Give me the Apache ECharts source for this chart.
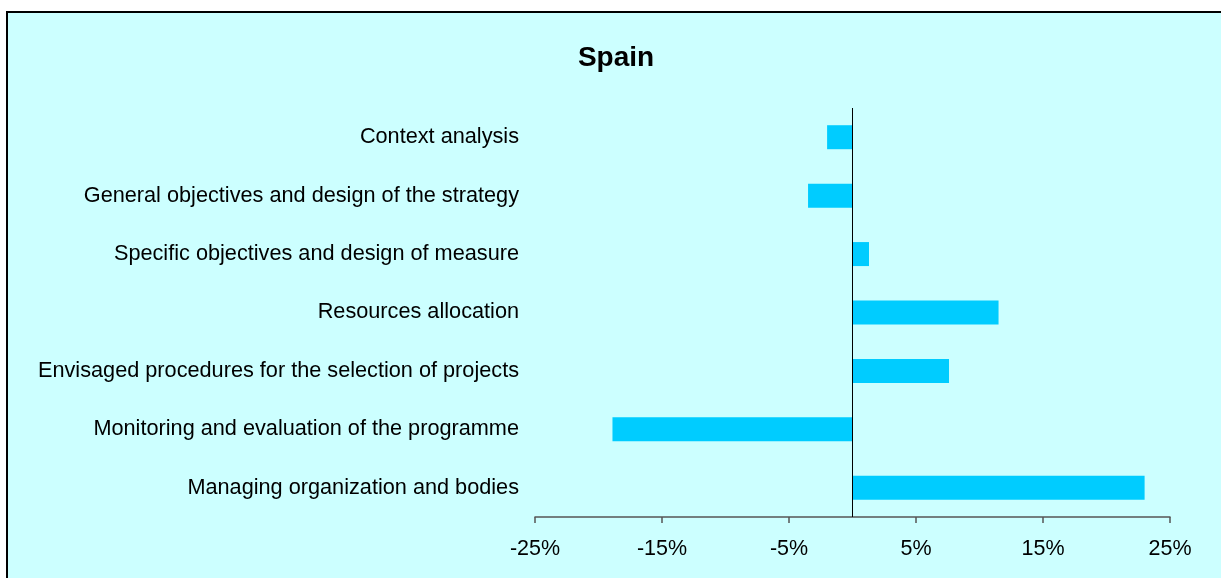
<!DOCTYPE html>
<html>
<head>
<meta charset="utf-8">
<script src="https://cdn.jsdelivr.net/npm/echarts@6/dist/echarts.min.js"></script>
<style>
  html, body { margin: 0; padding: 0; background: #fff; }
  #main { width: 1221px; height: 578px; }
</style>
</head>
<body>
<div id="main"></div>
<script type="text/javascript">
  // categories, top to bottom as in the chart
  var categories = [
    'Context analysis',
    'General objectives and design of the strategy',
    'Specific objectives and design of measure',
    'Resources allocation',
    'Envisaged procedures for the selection of projects',
    'Monitoring and evaluation of the programme',
    'Managing organization and bodies'
  ];
  // difference in percent
  var values = [-2.0, -3.5, 1.3, 11.5, 7.6, -18.9, 23.0];
  var xMin = -25, xMax = 25, xStep = 10;

  var chart = echarts.init(document.getElementById('main'), null, { renderer: 'canvas' });

  chart.setOption({
    animation: false,
    backgroundColor: '#ffffff',
    textStyle: { fontFamily: 'Liberation Sans, Arial, sans-serif' },
    graphic: [{
      type: 'rect',
      left: 6, top: 11,
      shape: { width: 1240, height: 600 },
      style: { fill: '#CCFFFF', stroke: '#000', lineWidth: 2 },
      z: -10
    }],
    title: {
      text: 'Spain',
      left: 611,
      top: 39,
      textAlign: 'center',
      textStyle: { fontSize: 28, fontWeight: 'bold', color: '#000', fontFamily: 'Liberation Sans, Arial, sans-serif' }
    },
    grid: { left: 535, right: 51, top: 108, bottom: 61, containLabel: false },
    xAxis: {
      type: 'value',
      min: xMin, max: xMax, interval: xStep,
      axisLine: { show: true, onZero: false, lineStyle: { color: '#555', width: 1.5 } },
      axisTick: { show: true, length: 6, lineStyle: { color: '#555', width: 1.5 } },
      splitLine: { show: false },
      axisLabel: {
        margin: 21, fontSize: 21.5, color: '#000',
        formatter: function (v) { return v + '%'; }
      }
    },
    yAxis: {
      type: 'category',
      data: categories,
      inverse: true,
      axisLine: { show: false },
      axisTick: { show: false },
      axisLabel: { margin: 16, fontSize: 21.7, color: '#000' }
    },
    series: [{
      type: 'bar',
      data: values,
      barWidth: 24,
      itemStyle: { color: '#00CCFF' },
      markLine: {
        silent: true,
        symbol: 'none',
        label: { show: false },
        lineStyle: { color: '#000', width: 1, type: 'solid' },
        data: [{ xAxis: 0 }]
      }
    }]
  });
</script>
</body>
</html>
